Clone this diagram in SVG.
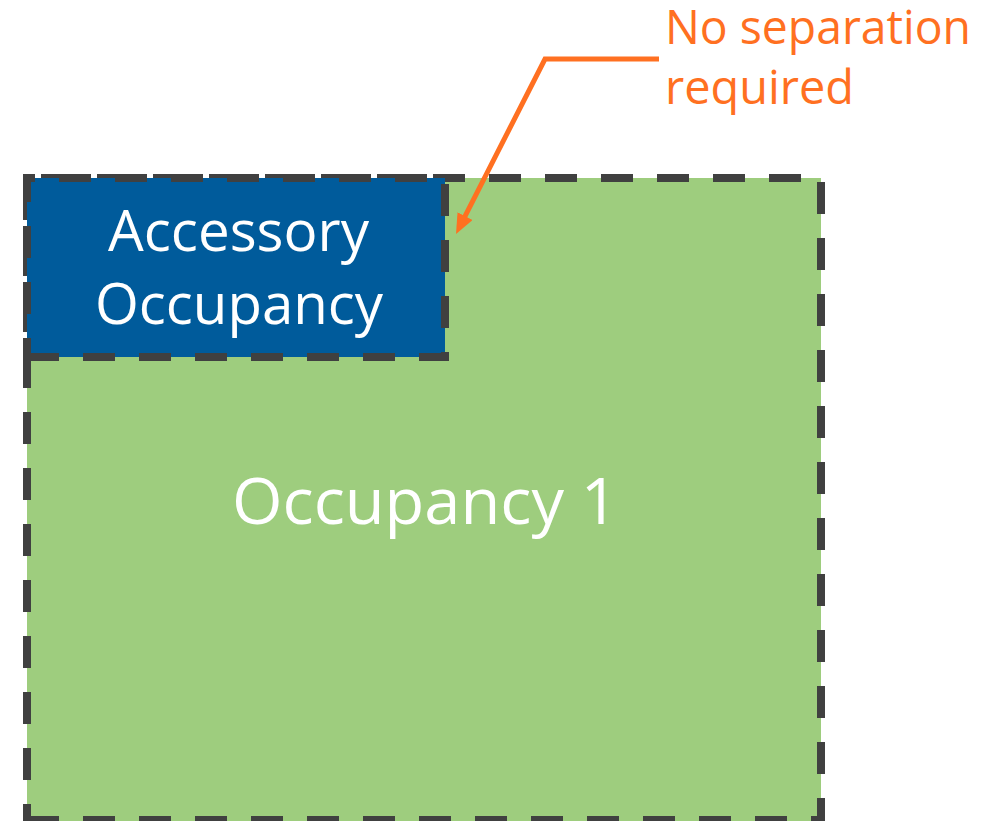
<svg xmlns="http://www.w3.org/2000/svg" width="993" height="821" viewBox="0 0 993 821">
  <style>
    .edge { stroke: #404040; stroke-width: 8; stroke-dasharray: 32 24; stroke-linecap: butt; fill: none; }
    .label { font-family: "Open Sans", "Liberation Sans", sans-serif; fill: #ffffff; }
    .note { font-family: "Open Sans", "Liberation Sans", sans-serif; fill: #ff7021; font-size: 47px; }
    .leader { stroke: #ff7021; stroke-width: 5; fill: none; stroke-linejoin: miter; }
  </style>
  <defs>
    <marker id="head" viewBox="0 0 20 17" refX="4" refY="8.5" markerWidth="20" markerHeight="17" markerUnits="userSpaceOnUse" orient="auto">
      <path d="M0,0 L20,8.5 L0,17 z" fill="#ff7021"/>
    </marker>
  </defs>
  <rect width="993" height="821" fill="#ffffff"/>

  <!-- main occupancy area -->
  <g id="occupancy-1">
    <rect x="27" y="178" width="794" height="646" fill="#9ecd7e"/>
    <line class="edge" x1="23" y1="178" x2="825" y2="178" stroke-dashoffset="38"/>
    <line class="edge" x1="821" y1="174" x2="821" y2="824" stroke-dashoffset="48"/>
    <line class="edge" x1="23" y1="820" x2="825" y2="820" stroke-dashoffset="52"/>
    <line class="edge" x1="27" y1="174" x2="27" y2="824" stroke-dashoffset="42"/>
    <text class="label" x="232" y="524" font-size="64.5" textLength="386" lengthAdjust="spacingAndGlyphs">Occupancy 1</text>
  </g>

  <!-- accessory occupancy in the corner -->
  <g id="accessory-occupancy">
    <rect x="27" y="178" width="418" height="179" fill="#005b9b"/>
    <line class="edge" x1="23" y1="178" x2="449" y2="178" stroke-dashoffset="20"/>
    <line class="edge" x1="445" y1="174" x2="445" y2="361" stroke-dashoffset="46"/>
    <line class="edge" x1="23" y1="357" x2="449" y2="357" stroke-dashoffset="52"/>
    <line class="edge" x1="27" y1="174" x2="27" y2="361" stroke-dashoffset="4"/>
    <text class="label" x="108" y="251" font-size="57.5" textLength="261" lengthAdjust="spacingAndGlyphs">Accessory</text>
    <text class="label" x="95" y="324" font-size="57.5" textLength="288" lengthAdjust="spacingAndGlyphs">Occupancy</text>
  </g>

  <!-- callout text -->
  <g id="callout">
    <text class="note" x="665" y="44" textLength="306" lengthAdjust="spacingAndGlyphs">No separation</text>
    <text class="note" x="665" y="104" textLength="189" lengthAdjust="spacingAndGlyphs">required</text>
  </g>

  <!-- connectors -->
  <g id="connectors">
    <path class="leader" d="M659,59 L545,59 L463.3,219.7" marker-end="url(#head)"/>
  </g>
</svg>
